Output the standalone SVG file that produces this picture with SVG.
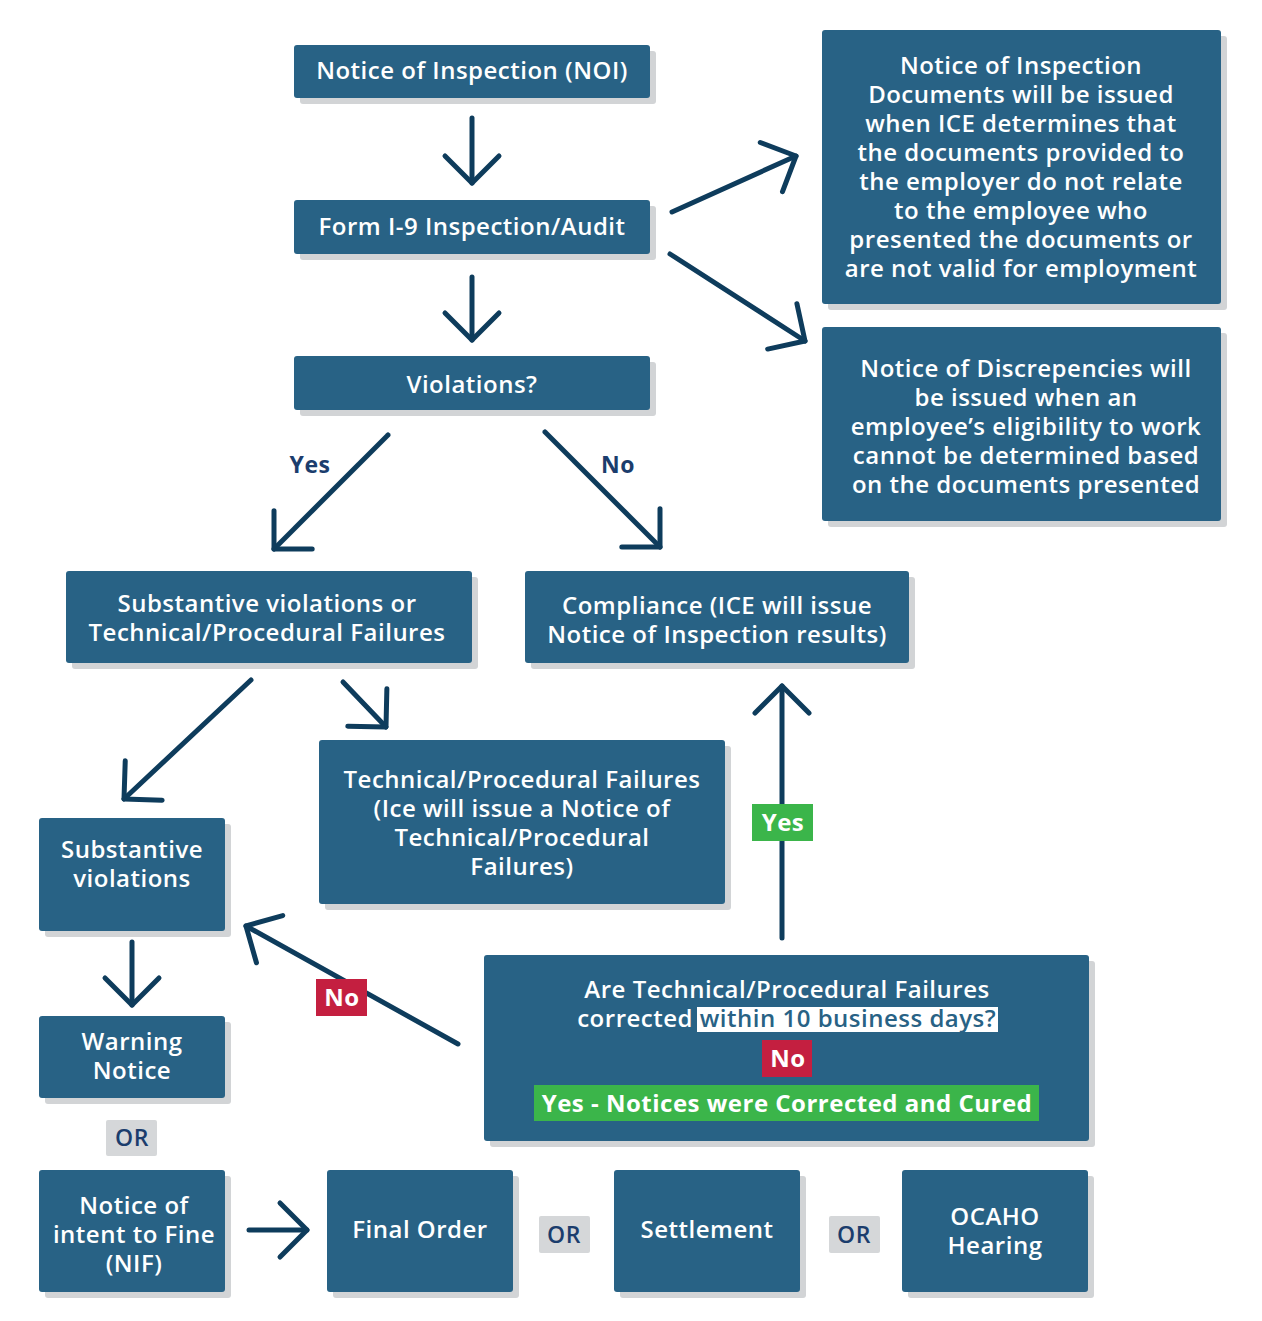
<svg xmlns="http://www.w3.org/2000/svg" width="1262" height="1321" viewBox="0 0 1262 1321">
<style>
.box{fill:#286285;}
.sh{fill:#d2d4d6;}
.t{font-family:"Open Sans",Lato,sans-serif;font-size:24px;fill:#ffffff;text-anchor:middle;font-weight:600;letter-spacing:0.5px;}
.tb{font-family:"Open Sans",Lato,sans-serif;font-size:24px;fill:#ffffff;text-anchor:middle;font-weight:700;letter-spacing:0.5px;}
.lbl{font-family:"Open Sans",Lato,sans-serif;font-size:23px;fill:#1b3d6d;text-anchor:middle;font-weight:700;letter-spacing:0.5px;}
.or{fill:#d5d7d9;}
.red{fill:#c41f40;}
.green{fill:#3bb54a;}
.arr{fill:none;stroke:#0e3c5c;stroke-width:5;stroke-linecap:round;stroke-linejoin:round;marker-end:url(#ah);}
</style>
<defs>
<marker id="ah" markerUnits="userSpaceOnUse" orient="auto" overflow="visible" markerWidth="1" markerHeight="1" refX="0" refY="0">
<path d="M-27,-27 L0,0 L-27,27" fill="none" stroke="#0e3c5c" stroke-width="5" stroke-linecap="round" stroke-linejoin="round"/>
</marker>
</defs>
<rect width="1262" height="1321" fill="#ffffff"/>

<g id="connectors">
<path class="arr" d="M472,118 L472,183"/>
<path class="arr" d="M472,277 L472,340"/>
<path class="arr" d="M672,212 L796,156"/>
<path class="arr" d="M670,254 L805,341"/>
<path class="arr" d="M388,435 L274,549"/>
<path class="arr" d="M545,432 L660,547"/>
<path class="arr" d="M251,680 L124,799"/>
<path class="arr" d="M343,682 L386,727"/>
<path class="arr" d="M132,942 L132,1005"/>
<path class="arr" d="M458,1044 L246,926"/>
<path class="arr" d="M782,938 L782,686"/>
<path class="arr" d="M249,1230 L307,1230"/>
<text class="lbl" x="310" y="473">Yes</text>
<text class="lbl" x="618" y="473">No</text>
<rect class="green" x="752" y="804" width="61" height="37"/>
<text class="tb" x="783" y="831">Yes</text>
<rect class="red" x="316" y="979" width="51" height="37"/>
<text class="tb" x="342" y="1006">No</text>
</g>

<g id="noi">
<rect class="sh" x="300" y="51" width="356" height="53" rx="3"/>
<rect class="box" x="294" y="45" width="356" height="53" rx="3"/>
<text class="t" x="472" y="79">Notice of Inspection (NOI)</text>
</g>
<g id="form-i9">
<rect class="sh" x="300" y="206" width="356" height="54" rx="3"/>
<rect class="box" x="294" y="200" width="356" height="54" rx="3"/>
<text class="t" x="472" y="235">Form I-9 Inspection/Audit</text>
</g>
<g id="violations">
<rect class="sh" x="300" y="362" width="356" height="54" rx="3"/>
<rect class="box" x="294" y="356" width="356" height="54" rx="3"/>
<text class="t" x="472" y="393">Violations?</text>
</g>
<g id="notice-docs">
<rect class="sh" x="828" y="36" width="399" height="274" rx="3"/>
<rect class="box" x="822" y="30" width="399" height="274" rx="3"/>
<text class="t" x="1021" y="74">Notice of Inspection</text>
<text class="t" x="1021" y="103">Documents will be issued</text>
<text class="t" x="1021" y="132">when ICE determines that</text>
<text class="t" x="1021" y="161">the documents provided to</text>
<text class="t" x="1021" y="190">the employer do not relate</text>
<text class="t" x="1021" y="219">to the employee who</text>
<text class="t" x="1021" y="248">presented the documents or</text>
<text class="t" x="1021" y="277">are not valid for employment</text>
</g>
<g id="notice-discrepancies">
<rect class="sh" x="828" y="333" width="399" height="194" rx="3"/>
<rect class="box" x="822" y="327" width="399" height="194" rx="3"/>
<text class="t" x="1026" y="377">Notice of Discrepencies will</text>
<text class="t" x="1026" y="406">be issued when an</text>
<text class="t" x="1026" y="435">employee’s eligibility to work</text>
<text class="t" x="1026" y="464">cannot be determined based</text>
<text class="t" x="1026" y="493">on the documents presented</text>
</g>
<g id="subst-or-tech">
<rect class="sh" x="72" y="577" width="406" height="92" rx="3"/>
<rect class="box" x="66" y="571" width="406" height="92" rx="3"/>
<text class="t" x="267" y="612">Substantive violations or</text>
<text class="t" x="267" y="641">Technical/Procedural Failures</text>
</g>
<g id="compliance">
<rect class="sh" x="531" y="577" width="384" height="92" rx="3"/>
<rect class="box" x="525" y="571" width="384" height="92" rx="3"/>
<text class="t" x="717" y="614">Compliance (ICE will issue</text>
<text class="t" x="717" y="643">Notice of Inspection results)</text>
</g>
<g id="tech-failures">
<rect class="sh" x="325" y="746" width="406" height="164" rx="3"/>
<rect class="box" x="319" y="740" width="406" height="164" rx="3"/>
<text class="t" x="522" y="788">Technical/Procedural Failures</text>
<text class="t" x="522" y="817">(Ice will issue a Notice of</text>
<text class="t" x="522" y="846">Technical/Procedural</text>
<text class="t" x="522" y="875">Failures)</text>
</g>
<g id="substantive">
<rect class="sh" x="45" y="824" width="186" height="113" rx="3"/>
<rect class="box" x="39" y="818" width="186" height="113" rx="3"/>
<text class="t" x="132" y="858">Substantive</text>
<text class="t" x="132" y="887">violations</text>
</g>
<g id="warning">
<rect class="sh" x="45" y="1022" width="186" height="82" rx="3"/>
<rect class="box" x="39" y="1016" width="186" height="82" rx="3"/>
<text class="t" x="132" y="1050">Warning</text>
<text class="t" x="132" y="1079">Notice</text>
</g>
<g id="or1">
<rect class="or" x="106" y="1120" width="51" height="36" rx="2"/>
<text class="lbl" x="132" y="1146" style="font-weight:600">OR</text>
</g>
<g id="nif">
<rect class="sh" x="45" y="1176" width="186" height="122" rx="3"/>
<rect class="box" x="39" y="1170" width="186" height="122" rx="3"/>
<text class="t" x="134" y="1214">Notice of</text>
<text class="t" x="134" y="1243">intent to Fine</text>
<text class="t" x="134" y="1272">(NIF)</text>
</g>
<g id="final-order">
<rect class="sh" x="333" y="1176" width="186" height="122" rx="3"/>
<rect class="box" x="327" y="1170" width="186" height="122" rx="3"/>
<text class="t" x="420" y="1238">Final Order</text>
</g>
<g id="or2">
<rect class="or" x="539" y="1216" width="51" height="37" rx="2"/>
<text class="lbl" x="564" y="1243" style="font-weight:600">OR</text>
</g>
<g id="settlement">
<rect class="sh" x="620" y="1176" width="186" height="122" rx="3"/>
<rect class="box" x="614" y="1170" width="186" height="122" rx="3"/>
<text class="t" x="707" y="1238">Settlement</text>
</g>
<g id="or3">
<rect class="or" x="829" y="1216" width="51" height="37" rx="2"/>
<text class="lbl" x="854" y="1243" style="font-weight:600">OR</text>
</g>
<g id="ocaho">
<rect class="sh" x="908" y="1176" width="186" height="122" rx="3"/>
<rect class="box" x="902" y="1170" width="186" height="122" rx="3"/>
<text class="t" x="995" y="1225">OCAHO</text>
<text class="t" x="995" y="1254">Hearing</text>
</g>
<g id="question">
<rect class="sh" x="490" y="961" width="605" height="186" rx="3"/>
<rect class="box" x="484" y="955" width="605" height="186" rx="3"/>
<text class="t" x="787" y="998">Are Technical/Procedural Failures</text>
<text class="t" x="693" y="1027" style="text-anchor:end">corrected</text>
<rect x="697" y="1007" width="301" height="25" fill="#ffffff"/>
<text class="t" x="848" y="1027" style="fill:#286285">within 10 business days?</text>
<rect class="red" x="762" y="1040" width="50" height="37"/>
<text class="tb" x="788" y="1067">No</text>
<rect class="green" x="534" y="1085" width="505" height="36"/>
<text class="tb" x="787" y="1112">Yes - Notices were Corrected and Cured</text>
</g>
</svg>
